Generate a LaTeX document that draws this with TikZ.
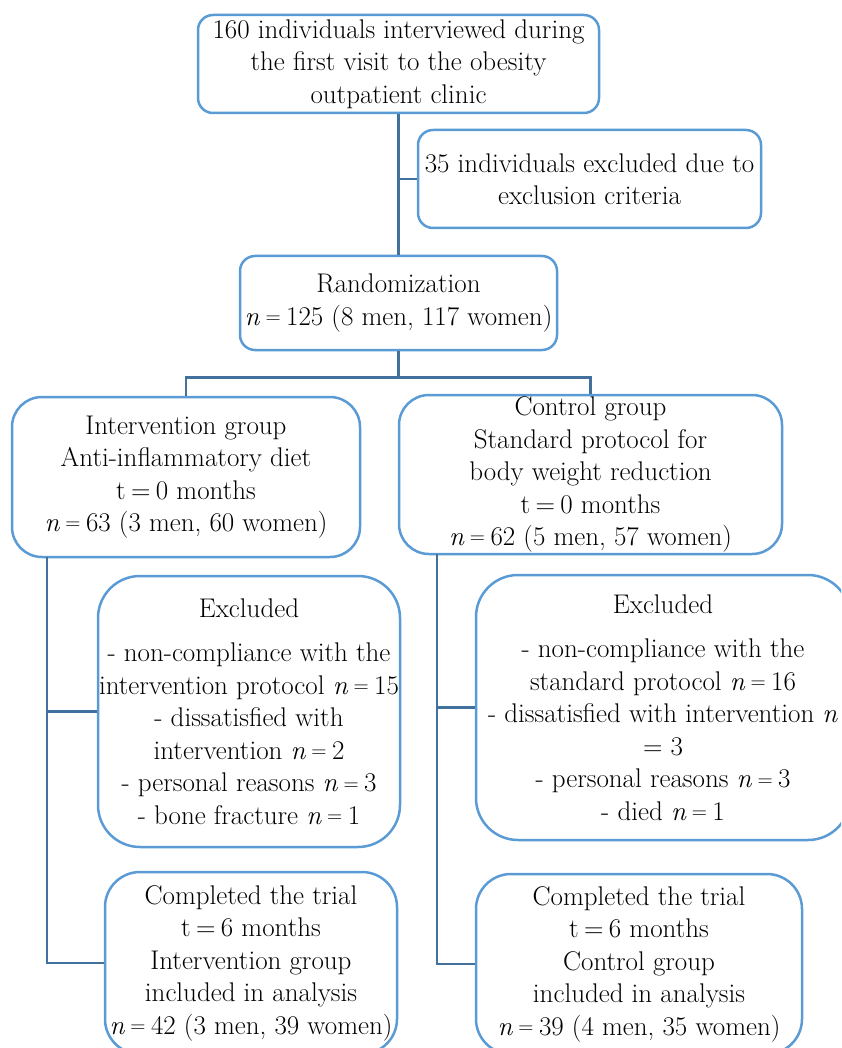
\documentclass[tikz,border=0pt]{standalone}
\usetikzlibrary{calc,positioning}
\definecolor{boxblue}{HTML}{5B9BD5}
\definecolor{lineblue}{HTML}{41719C}
\newcommand{\nis}{\textit{n}\kern0.2em\raisebox{0.06em}{\fontsize{21}{0}\selectfont=}\kern0.2em}

\begin{document}
\begin{tikzpicture}[
    x=1pt, y=-1pt,
    box style/.style={draw=boxblue, line width=2.5pt, rounded corners=#1,
        align=center, inner sep=0pt, font=\fontsize{27}{32.5}\selectfont},
    box style/.default=15pt,
    line style/.style={draw=lineblue, line width=2.5pt}
]

% SAME BOUNDING BOX
\path[use as bounding box] (0,0) rectangle (841,1048);
\clip (0,0) rectangle (841,1048);

\node[box style, minimum width=401pt, minimum height=98pt] (visit) at (398.5,64)
    {160 individuals interviewed during\\the first visit to the obesity\\outpatient clinic};
\node[box style, minimum width=343pt, minimum height=98pt] (crit) at (589.5,179)
    {35 individuals excluded due to\\exclusion criteria};
\node[box style, minimum width=317pt, minimum height=94pt] (rand) at (398.5,303)
    {Randomization\\\nis125 (8 men, 117 women)};

\node[box style=30pt, minimum width=348pt, minimum height=160pt] (igroup) at (186,477)
    {Intervention group\\Anti-inflammatory diet\\t\kern0.2em=\kern0.2em0 months\\\nis63 (3 men, 60 women)};
\node[box style=30pt, minimum width=383pt, minimum height=159pt] (cgroup) at (590.5,474.5)
    {Control group\\Standard protocol for\\body weight reduction\\t\kern0.2em=\kern0.2em0 months\\\nis62 (5 men, 57 women)};

\node[box style=42pt, minimum width=302pt, minimum height=271pt] (iexcl) at (249,711.5)
    {Excluded\\[12pt]- non-compliance with the\\intervention protocol \nis15\\- dissatisfied with\\intervention \nis2\\- personal reasons \nis3\\- bone fracture \nis1};
\node[box style=42pt, minimum width=374pt, minimum height=265pt] (cexcl) at (663,707.5)
    {Excluded\\[12pt]- non-compliance with the\\standard protocol \nis16\\- dissatisfied with intervention \textit{n}\\= 3\\- personal reasons \nis3\\- died \nis1};

\node[box style=35pt, minimum width=292pt, minimum height=182pt] (idone) at (251,963)
    {Completed the trial\\t\kern0.2em=\kern0.2em6 months\\Intervention group\\included in analysis\\\nis42 (3 men, 39 women)};
\node[box style=35pt, minimum width=326pt, minimum height=180pt] (cdone) at (639,964)
    {Completed the trial\\t\kern0.2em=\kern0.2em6 months\\Control group\\included in analysis\\\nis39 (4 men, 35 women)};

\coordinate (split) at ($(rand.south)+(0,26)$);
\coordinate (istem) at (47,557);
\coordinate (cstem) at (437,554);

\draw[line style] (visit.south) -- (rand.north);
\draw[line style] (visit.south |- crit.west) -- (crit.west);
\draw[line style] (rand.south) -- (split);
\draw[line style] (split) -| (igroup.north);
\draw[line style] (split) -| (cgroup.north);
\draw[line style] (istem) |- (idone.west);
\draw[line style] (istem |- iexcl.west) -- (iexcl.west);
\draw[line style] (cstem) |- (cdone.west);
\draw[line style] (cstem |- cexcl.west) -- (cexcl.west);

\end{tikzpicture}
\end{document}
